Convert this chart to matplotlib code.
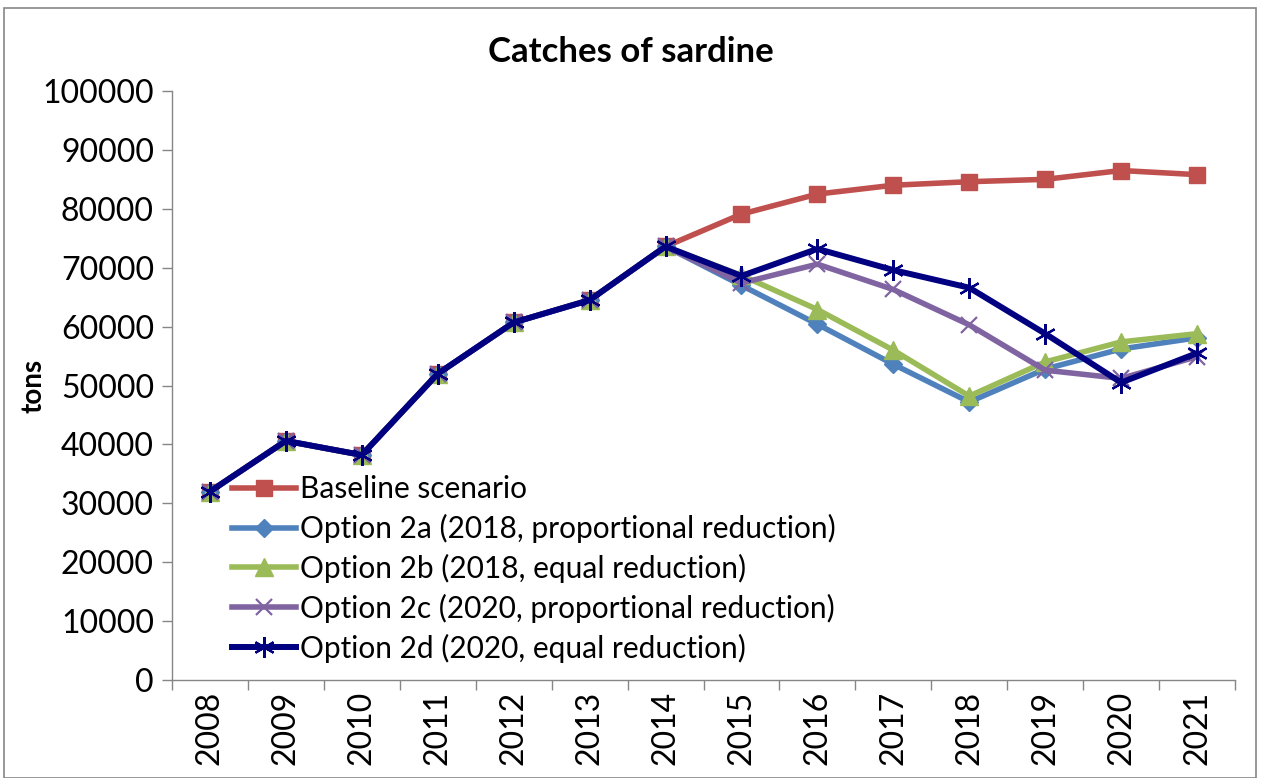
import matplotlib
matplotlib.use("Agg")
import matplotlib.pyplot as plt
from matplotlib.patches import Rectangle

years = ["2008", "2009", "2010", "2011", "2012", "2013", "2014",
         "2015", "2016", "2017", "2018", "2019", "2020", "2021"]
baseline = [32000, 40600, 38200, 52000, 60700, 64500, 73600,
            79100, 82500, 84000, 84600, 85000, 86500, 85800]
option_2a = [32000, 40600, 38200, 52000, 60700, 64500, 73600,
             67000, 60400, 53600, 47200, 52800, 56200, 58100]
option_2b = [32000, 40600, 38200, 52000, 60700, 64500, 73600,
             68700, 62900, 56000, 48200, 54000, 57400, 58800]
option_2c = [32000, 40600, 38200, 52000, 60700, 64500, 73600,
             67400, 70600, 66300, 60300, 52600, 51200, 54900]
option_2d = [32000, 40600, 38200, 52000, 60700, 64500, 73600,
             68600, 73200, 69600, 66600, 58800, 50500, 55500]

series = [
    ("Baseline scenario", baseline, "#C0504D", "s", 12, 4.0),
    ("Option 2a (2018, proportional reduction)", option_2a, "#4F81BD", "D", 9.5, 4.0),
    ("Option 2b (2018, equal reduction)", option_2b, "#9BBB59", "^", 13, 4.0),
    ("Option 2c (2020, proportional reduction)", option_2c, "#8064A2", "x", 12, 4.0),
    ("Option 2d (2020, equal reduction)", option_2d, "#000080", (6, 2, 0), 15, 4.3),
]

plt.rcParams['font.family'] = ['Lato', 'DejaVu Sans']

fig = plt.figure(figsize=(12.61, 7.78), dpi=100)
ax = fig.add_axes([172/1261, 1-680/778, (1235-172)/1261, (680-91)/778])

x = list(range(len(years)))
for label, vals, color, marker, ms, lw in series:
    kw = dict(color=color, marker=marker, markersize=ms, linewidth=lw, label=label,
              markerfacecolor=color, markeredgecolor=color)
    if marker == "x" or isinstance(marker, tuple):
        kw["markeredgewidth"] = 1.6
    ax.plot(x, vals, **kw)

ax.set_xlim(-0.5, len(years) - 0.5)
ax.set_ylim(0, 100000)
ax.set_yticks(range(0, 100001, 10000))
ax.set_yticklabels([str(v) for v in range(0, 100001, 10000)], fontsize=23)
ax.set_xticks(x)
ax.set_xticklabels(years, rotation=90, fontsize=23)
ax.set_xticks([i - 0.5 for i in range(len(years) + 1)], minor=True)
ax.tick_params(axis='x', which='major', length=0, pad=8)
ax.tick_params(axis='x', which='minor', length=7, color='#868686', width=1)
ax.tick_params(axis='y', length=7, color='#868686', width=1, pad=6)
for s in ['top', 'right']:
    ax.spines[s].set_visible(False)
for s in ['left', 'bottom']:
    ax.spines[s].set_color('#868686')
    ax.spines[s].set_linewidth(1)

fig.text(0.5, 1 - 52/778, "Catches of sardine", fontsize=25, fontweight='bold',
         ha='center', va='center')
ax.set_ylabel("tons", fontsize=20, fontweight='bold')
ax.yaxis.set_label_coords((47 - 172)/1063, 0.5)

leg = ax.legend(loc='upper left', bbox_to_anchor=(0.045, 0.368), frameon=False,
                fontsize=21.5, handlelength=2.15, handletextpad=0.15, labelspacing=0.36,
                borderaxespad=0)

fig.patches.append(Rectangle((4/1261, 0), (1256-4)/1261, 1-8/778, transform=fig.transFigure,
                             fill=False, edgecolor='#868686', linewidth=1.2))

fig.savefig("out.png", dpi=100)
